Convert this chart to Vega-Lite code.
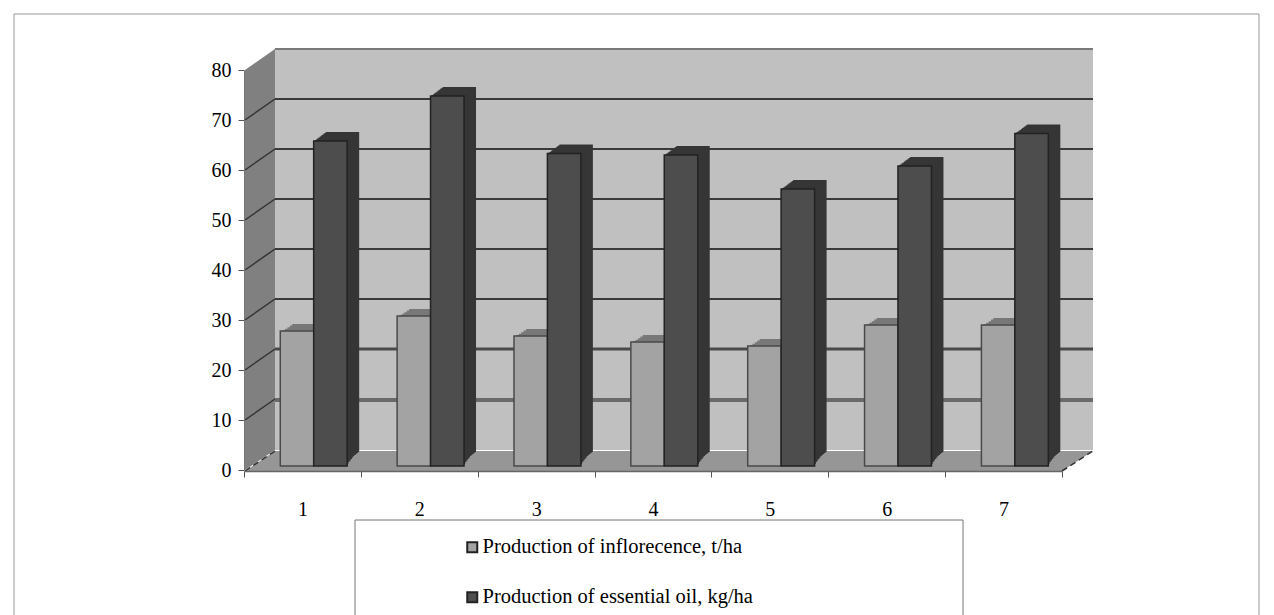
{"$schema":"https://vega.github.io/schema/vega-lite/v6.json","width":818,"height":400,"autosize":{"type":"none"},"padding":{"left":244,"top":70,"right":212,"bottom":145},"background":"white","config":{"view":{"stroke":null},"font":"Liberation Serif"},"datasets":{"bars":[{"category":"1","series":"Production of inflorecence, t/ha","value":27},{"category":"2","series":"Production of inflorecence, t/ha","value":30},{"category":"3","series":"Production of inflorecence, t/ha","value":26},{"category":"4","series":"Production of inflorecence, t/ha","value":24.8},{"category":"5","series":"Production of inflorecence, t/ha","value":24},{"category":"6","series":"Production of inflorecence, t/ha","value":28.2},{"category":"7","series":"Production of inflorecence, t/ha","value":28.2},{"category":"1","series":"Production of essential oil, kg/ha","value":65},{"category":"2","series":"Production of essential oil, kg/ha","value":74},{"category":"3","series":"Production of essential oil, kg/ha","value":62.5},{"category":"4","series":"Production of essential oil, kg/ha","value":62.2},{"category":"5","series":"Production of essential oil, kg/ha","value":55.4},{"category":"6","series":"Production of essential oil, kg/ha","value":60},{"category":"7","series":"Production of essential oil, kg/ha","value":66.5}],"ticks":[{"tick":10,"back":14.2},{"tick":20,"back":24.2},{"tick":30,"back":34.2},{"tick":40,"back":44.2},{"tick":50,"back":54.2},{"tick":60,"back":64.2},{"tick":70,"back":74.2},{"tick":80,"back":84.2}],"sidewall":[{"d":1,"low":0,"high":80},{"d":31,"low":4,"high":84.2}],"floor":[{"d":1,"front":-0.2,"back":-0.2},{"d":31,"front":-0.2,"back":3.8},{"d":818,"front":-0.2,"back":3.8},{"d":849,"front":3.8,"back":3.8}],"edges":[{"d0":1,"d1":31},{"d0":818,"d1":849}],"panels":[{"name":"frame","x0":-230,"x1":1015,"y0":91.2,"y1":-40},{"name":"legendbox","x0":111,"x1":719,"y0":-10,"y1":-40},{"name":"wall","x0":31,"x1":849,"y0":4,"y1":84.4}]},"resolve":{"scale":{"x":"independent"}},"layer":[{"layer":[{"data":{"name":"panels"},"transform":[{"filter":"datum.name=='frame'"}],"mark":{"type":"rect","fill":"white","stroke":"#999999","strokeWidth":1},"encoding":{"x":{"field":"x0","type":"quantitative","scale":{"domain":[0,818],"nice":false,"zero":false},"axis":null},"x2":{"field":"x1"},"y":{"field":"y0","type":"quantitative","scale":{"domain":[0,80],"nice":false},"axis":{"zindex":1,"values":[0,10,20,30,40,50,60,70,80],"title":null,"grid":false,"labelFontSize":20,"labelFont":"Liberation Serif","labelColor":"#000000","tickColor":"#555555","tickSize":6,"domainColor":"#777777","labelPadding":7}},"y2":{"field":"y1"}}},{"data":{"name":"panels"},"transform":[{"filter":"datum.name=='legendbox'"}],"mark":{"type":"rect","fill":"white","stroke":"#777777","strokeWidth":1},"encoding":{"x":{"field":"x0","type":"quantitative"},"x2":{"field":"x1"},"y":{"field":"y0","type":"quantitative"},"y2":{"field":"y1"}}},{"data":{"name":"panels"},"transform":[{"filter":"datum.name=='wall'"}],"mark":{"type":"rect","fill":"#c0c0c0"},"encoding":{"x":{"field":"x0","type":"quantitative"},"x2":{"field":"x1"},"y":{"field":"y0","type":"quantitative"},"y2":{"field":"y1"}}},{"data":{"name":"sidewall"},"mark":{"type":"area","fill":"#808080"},"encoding":{"x":{"field":"d","type":"quantitative"},"y":{"field":"low","type":"quantitative","stack":null},"y2":{"field":"high"}}},{"data":{"name":"floor"},"mark":{"type":"area","fill":"#969696"},"encoding":{"x":{"field":"d","type":"quantitative"},"y":{"field":"front","type":"quantitative","stack":null},"y2":{"field":"back"}}},{"data":{"name":"edges"},"mark":{"type":"rule","color":"#333333","strokeWidth":1.5,"strokeDash":[6,4]},"encoding":{"x":{"field":"d0","type":"quantitative"},"x2":{"field":"d1"},"y":{"datum":-0.2,"type":"quantitative"},"y2":{"datum":3.8}}},{"data":{"name":"ticks"},"transform":[{"filter":"datum.tick>=30 && datum.tick<80"}],"mark":{"type":"rule","color":"#3a3a3a","strokeWidth":2,"yOffset":-21},"encoding":{"x":{"datum":31,"type":"quantitative"},"x2":{"datum":849},"y":{"field":"tick","type":"quantitative"}}},{"data":{"name":"ticks"},"transform":[{"filter":"datum.tick==80"}],"mark":{"type":"rule","color":"#7a7a7a","strokeWidth":2,"yOffset":-21},"encoding":{"x":{"datum":31,"type":"quantitative"},"x2":{"datum":849},"y":{"field":"tick","type":"quantitative"}}},{"data":{"name":"ticks"},"transform":[{"filter":"datum.tick==20"}],"mark":{"type":"rule","color":"#4a4a4a","strokeWidth":3,"yOffset":-21},"encoding":{"x":{"datum":31,"type":"quantitative"},"x2":{"datum":849},"y":{"field":"tick","type":"quantitative"}}},{"data":{"name":"ticks"},"transform":[{"filter":"datum.tick==10"}],"mark":{"type":"rule","color":"#6a6a6a","strokeWidth":4,"yOffset":-20},"encoding":{"x":{"datum":31,"type":"quantitative"},"x2":{"datum":849},"y":{"field":"tick","type":"quantitative"}}},{"data":{"name":"ticks"},"transform":[{"filter":"datum.tick<80"}],"mark":{"type":"rule","color":"#333333","strokeWidth":1.5},"encoding":{"x":{"datum":1,"type":"quantitative"},"x2":{"datum":31},"y":{"field":"tick","type":"quantitative"},"y2":{"field":"back"}}}]},{"data":{"name":"bars"},"encoding":{"x":{"field":"category","type":"nominal","scale":{"paddingInner":0,"paddingOuter":0},"axis":{"orient":"bottom","zindex":1,"title":null,"labelAngle":0,"tickBand":"extent","labelFontSize":20,"labelFont":"Liberation Serif","labelColor":"#000000","tickSize":6,"tickColor":"#555555","domainColor":"#666666","domainWidth":1.5,"labelPadding":22,"offset":1}},"y":{"field":"value","type":"quantitative","stack":null},"y2":{"datum":0}},"layer":[{"transform":[{"filter":"indexof(datum.series,'inflor')>=0"}],"mark":{"type":"bar","width":33.5,"fill":"#787878","xOffset":6.6,"yOffset":-11,"y2Offset":-11}},{"transform":[{"filter":"indexof(datum.series,'inflor')>=0"}],"mark":{"type":"bar","width":33.5,"fill":"#787878","xOffset":4.2,"yOffset":-9.4,"y2Offset":-9.4}},{"transform":[{"filter":"indexof(datum.series,'inflor')>=0"}],"mark":{"type":"bar","width":33.5,"fill":"#787878","xOffset":1.8,"yOffset":-7.8,"y2Offset":-7.8}},{"transform":[{"filter":"indexof(datum.series,'inflor')>=0"}],"mark":{"type":"bar","width":33.5,"fill":"#787878","xOffset":-0.6,"yOffset":-6.2,"y2Offset":-6.2}},{"transform":[{"filter":"indexof(datum.series,'inflor')>=0"}],"mark":{"type":"bar","width":33.5,"fill":"#787878","xOffset":-3,"yOffset":-5,"y2Offset":-5}},{"transform":[{"filter":"indexof(datum.series,'inflor')>=0"}],"mark":{"type":"bar","width":33.5,"stroke":"#4a4a4a","strokeWidth":1.5,"xOffset":-5.4,"yOffset":-4,"y2Offset":-4},"encoding":{"color":{"field":"series","type":"nominal","scale":{"domain":["Production of inflorecence, t/ha","Production of essential oil, kg/ha"],"range":["#a3a3a3","#4d4d4d"]},"legend":{"zindex":2,"title":null,"orient":"none","legendX":218,"legendY":467,"symbolType":"square","symbolSize":100,"symbolStrokeColor":"#222222","symbolStrokeWidth":2,"labelFontSize":20.5,"labelFont":"Liberation Serif","labelColor":"#000000","labelLimit":400,"rowPadding":29,"labelOffset":0}}}},{"transform":[{"filter":"indexof(datum.series,'essential')>=0"}],"mark":{"type":"bar","width":33.5,"fill":"#363636","xOffset":40,"yOffset":-13,"y2Offset":-18}},{"transform":[{"filter":"indexof(datum.series,'essential')>=0"}],"mark":{"type":"bar","width":33.5,"fill":"#363636","xOffset":38.8,"yOffset":-12.1,"y2Offset":-17}},{"transform":[{"filter":"indexof(datum.series,'essential')>=0"}],"mark":{"type":"bar","width":33.5,"fill":"#363636","xOffset":37.6,"yOffset":-11.2,"y2Offset":-16}},{"transform":[{"filter":"indexof(datum.series,'essential')>=0"}],"mark":{"type":"bar","width":33.5,"fill":"#363636","xOffset":36.4,"yOffset":-10.3,"y2Offset":-15}},{"transform":[{"filter":"indexof(datum.series,'essential')>=0"}],"mark":{"type":"bar","width":33.5,"fill":"#363636","xOffset":35.2,"yOffset":-9.4,"y2Offset":-14}},{"transform":[{"filter":"indexof(datum.series,'essential')>=0"}],"mark":{"type":"bar","width":33.5,"fill":"#363636","xOffset":34,"yOffset":-8.5,"y2Offset":-12.5}},{"transform":[{"filter":"indexof(datum.series,'essential')>=0"}],"mark":{"type":"bar","width":33.5,"fill":"#363636","xOffset":32.8,"yOffset":-7.6,"y2Offset":-11}},{"transform":[{"filter":"indexof(datum.series,'essential')>=0"}],"mark":{"type":"bar","width":33.5,"fill":"#363636","xOffset":31.6,"yOffset":-6.7,"y2Offset":-9.5}},{"transform":[{"filter":"indexof(datum.series,'essential')>=0"}],"mark":{"type":"bar","width":33.5,"fill":"#363636","xOffset":30.4,"yOffset":-5.8,"y2Offset":-8}},{"transform":[{"filter":"indexof(datum.series,'essential')>=0"}],"mark":{"type":"bar","width":33.5,"fill":"#363636","xOffset":29.2,"yOffset":-4.9,"y2Offset":-6}},{"transform":[{"filter":"indexof(datum.series,'essential')>=0"}],"mark":{"type":"bar","width":33.5,"stroke":"#222222","strokeWidth":1.5,"xOffset":28,"yOffset":-4,"y2Offset":-4},"encoding":{"color":{"field":"series","type":"nominal","scale":{"domain":["Production of inflorecence, t/ha","Production of essential oil, kg/ha"],"range":["#a3a3a3","#4d4d4d"]},"legend":{"zindex":2,"title":null,"orient":"none","legendX":218,"legendY":467,"symbolType":"square","symbolSize":100,"symbolStrokeColor":"#222222","symbolStrokeWidth":2,"labelFontSize":20.5,"labelFont":"Liberation Serif","labelColor":"#000000","labelLimit":400,"rowPadding":29,"labelOffset":0}}}}]}]}
